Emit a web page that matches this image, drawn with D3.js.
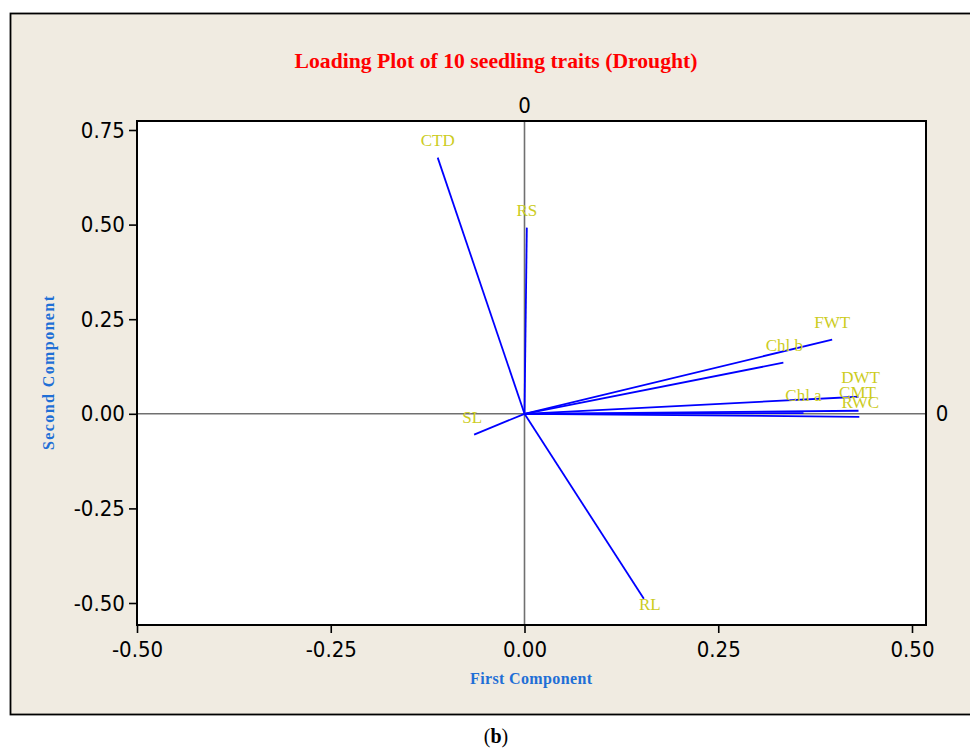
<!DOCTYPE html>
<html>
<head>
<meta charset="utf-8">
<script src="https://cdn.jsdelivr.net/npm/d3@7"></script>
<style>
  html, body { margin: 0; padding: 0; background: #fff; }
  svg { display: block; }
</style>
</head>
<body>
<div id="chart"></div>
<script>
(function () {
  "use strict";

  // Loadings
  const traits = ["CTD", "RS", "FWT", "Chl b", "DWT", "Chl a", "CMT", "RWC", "SL", "RL"];
  const pc1 = [-0.112, 0.003, 0.397, 0.334, 0.431, 0.360, 0.431, 0.432, -0.065, 0.154];
  const pc2 = [0.677, 0.492, 0.196, 0.135, 0.045, 0.002, 0.008, -0.008, -0.055, -0.489];
  const xTicks = [-0.50, -0.25, 0.00, 0.25, 0.50];
  const yTicks = [-0.50, -0.25, 0.00, 0.25, 0.50, 0.75];

  const W = 970, H = 749;
  const plot = { left: 137, right: 926, top: 121, bottom: 625 };

  const svg = d3.select("#chart").append("svg")
    .attr("width", W).attr("height", H);

  // beige frame
  svg.append("rect")
    .attr("x", 10.5).attr("y", 13.5)
    .attr("width", 975).attr("height", 701)
    .attr("fill", "#f0ebe1")
    .attr("stroke", "#000").attr("stroke-width", 1.8);

  svg.append("rect")
    .attr("x", plot.left).attr("y", plot.top)
    .attr("width", plot.right - plot.left).attr("height", plot.bottom - plot.top)
    .attr("fill", "#fff");

  const x = d3.scaleLinear().domain([-0.5, 0.5]).range([plot.left, 912]);
  const y = d3.scaleLinear().domain([-0.5, 0.75]).range([603, 130]);

  // reference lines through zero
  svg.append("line")
    .attr("x1", x(0)).attr("x2", x(0))
    .attr("y1", plot.top).attr("y2", plot.bottom)
    .attr("stroke", "#707070").attr("stroke-width", 1.6);
  svg.append("line")
    .attr("x1", plot.left).attr("x2", plot.right)
    .attr("y1", y(0)).attr("y2", y(0))
    .attr("stroke", "#707070").attr("stroke-width", 1.6);

  const tickFont = "'DejaVu Sans Condensed', 'DejaVu Sans', sans-serif";
  const fmt = d => d3.format(".2f")(d).replace("\u2212", "-");

  // axes
  const xAxis = svg.append("g")
    .attr("transform", `translate(0,${plot.bottom})`)
    .call(d3.axisBottom(x).tickValues(xTicks).tickFormat(fmt).tickSizeOuter(0).tickSize(8));
  const yAxis = svg.append("g")
    .attr("transform", `translate(${plot.left},0)`)
    .call(d3.axisLeft(y).tickValues(yTicks).tickFormat(fmt).tickSizeOuter(0).tickSize(8));

  [xAxis, yAxis].forEach(g => {
    g.select(".domain").remove();
    g.selectAll("line").attr("stroke", "#000").attr("stroke-width", 1.6);
    g.selectAll("text")
      .attr("fill", "#000")
      .style("font-family", tickFont)
      .style("font-size", "22px");
  });
  xAxis.selectAll("text").attr("dy", "0.95em");
  yAxis.selectAll("text").attr("dx", "-0.05em");

  // plot border
  svg.append("rect")
    .attr("x", plot.left).attr("y", plot.top)
    .attr("width", plot.right - plot.left).attr("height", plot.bottom - plot.top)
    .attr("fill", "none")
    .attr("stroke", "#000").attr("stroke-width", 2);

  // zero labels on top and right
  svg.append("text")
    .attr("x", x(0)).attr("y", 113)
    .attr("text-anchor", "middle")
    .style("font-family", tickFont).style("font-size", "22px")
    .text("0");
  svg.append("text")
    .attr("x", 942).attr("y", y(0))
    .attr("dominant-baseline", "central")
    .attr("text-anchor", "middle")
    .style("font-family", tickFont).style("font-size", "22px")
    .text("0");

  // loading vectors
  const data = traits.map((t, i) => ({ name: t, a: pc1[i], b: pc2[i] }));

  svg.append("g")
    .selectAll("line")
    .data(data)
    .enter()
    .append("line")
    .attr("x1", x(0)).attr("y1", y(0))
    .attr("x2", d => x(d.a)).attr("y2", d => y(d.b))
    .attr("stroke", "#0000ff")
    .attr("stroke-width", 1.8);

  // labels sit just above each tip; RL sits below it
  const labelDx = { "Chl b": 1, "DWT": 2, "CMT": -1, "RWC": 1, "SL": -2, "RL": 6 };
  const labelDy = { "DWT": -14, "CMT": -13, "RWC": -9 };
  svg.append("g")
    .selectAll("text")
    .data(data)
    .enter()
    .append("text")
    .attr("x", d => x(d.a) + (labelDx[d.name] || 0))
    .attr("y", d => y(d.b) + (d.name === "RL" ? 11 : (labelDy[d.name] || -12)))
    .attr("text-anchor", "middle")
    .style("font-family", "'Liberation Serif', 'Times New Roman', serif")
    .style("font-size", "17px")
    .attr("fill", "#cccc1e")
    .text(d => d.name);

  // titles
  svg.append("text")
    .attr("x", 496).attr("y", 68)
    .attr("text-anchor", "middle")
    .style("font-family", "'Liberation Serif', 'Times New Roman', serif")
    .style("font-weight", "bold")
    .style("font-size", "21px")
    .attr("fill", "#ff0000")
    .attr("textLength", 403)
    .attr("lengthAdjust", "spacingAndGlyphs")
    .text("Loading Plot of 10 seedling traits (Drought)");

  svg.append("text")
    .attr("x", 531).attr("y", 684)
    .attr("text-anchor", "middle")
    .style("font-family", "'Liberation Serif', 'Times New Roman', serif")
    .style("font-weight", "bold")
    .style("font-size", "16px")
    .attr("fill", "#1f6fd6")
    .attr("textLength", 122)
    .text("First Component");

  svg.append("text")
    .attr("transform", "translate(54,373) rotate(-90)")
    .attr("text-anchor", "middle")
    .style("font-family", "'Liberation Serif', 'Times New Roman', serif")
    .style("font-weight", "bold")
    .style("font-size", "16px")
    .attr("fill", "#1f6fd6")
    .attr("textLength", 154)
    .text("Second Component");

  // panel letter
  const cap = svg.append("text")
    .attr("x", 496).attr("y", 743)
    .attr("text-anchor", "middle")
    .style("font-family", "'Liberation Serif', 'Times New Roman', serif")
    .style("font-size", "20px")
    .attr("fill", "#000");
  cap.append("tspan").text("(");
  cap.append("tspan").style("font-weight", "bold").text("b");
  cap.append("tspan").text(")");
})();
</script>
</body>
</html>
